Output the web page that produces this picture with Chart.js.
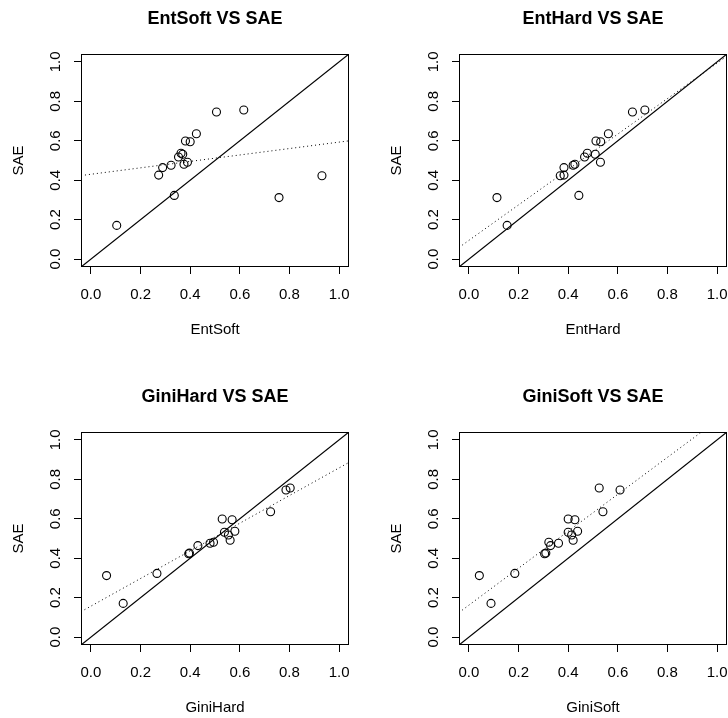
<!DOCTYPE html>
<html>
<head>
<meta charset="utf-8">
<script src="https://cdn.jsdelivr.net/npm/chart.js@4.4.0/dist/chart.umd.min.js"></script>
<style>
  html, body { margin: 0; padding: 0; background: #fff; }
  body { position: relative; width: 728px; height: 718px; overflow: hidden; }
  canvas { position: absolute; }
</style>
</head>
<body>
<canvas id="p1" width="364" height="360" style="left:0px;top:0px"></canvas>
<canvas id="p2" width="364" height="360" style="left:378px;top:0px"></canvas>
<canvas id="p3" width="364" height="360" style="left:0px;top:378px"></canvas>
<canvas id="p4" width="364" height="360" style="left:378px;top:378px"></canvas>
<script>
// SAE is shared by all four panels, each x array is in the same order
const SAE      = [0.171, 0.312, 0.323, 0.423, 0.426, 0.464, 0.476, 0.481, 0.491, 0.518, 0.532, 0.537, 0.595, 0.599, 0.636, 0.746, 0.756];
const entSoft  = [0.104, 0.758, 0.336, 0.931, 0.273, 0.289, 0.323, 0.375, 0.389, 0.353, 0.370, 0.363, 0.400, 0.381, 0.425, 0.506, 0.616];
const entHard  = [0.154, 0.113, 0.443, 0.368, 0.383, 0.383, 0.420, 0.427, 0.530, 0.466, 0.509, 0.477, 0.531, 0.512, 0.562, 0.659, 0.709];
const giniHard = [0.130, 0.063, 0.266, 0.394, 0.397, 0.431, 0.480, 0.494, 0.561, 0.554, 0.538, 0.580, 0.569, 0.529, 0.724, 0.786, 0.803];
const giniSoft = [0.089, 0.042, 0.185, 0.305, 0.310, 0.329, 0.361, 0.322, 0.420, 0.414, 0.400, 0.438, 0.427, 0.400, 0.540, 0.609, 0.525];

const TICKS = [0, 0.2, 0.4, 0.6, 0.8, 1.0];
const AXIS_MIN = -0.04;
const AXIS_MAX = 1.04;

const panels = [
    { id: 'p1', name: 'EntSoft',  x: entSoft },
    { id: 'p2', name: 'EntHard',  x: entHard },
    { id: 'p3', name: 'GiniHard', x: giniHard },
    { id: 'p4', name: 'GiniSoft', x: giniSoft }
];

Chart.defaults.font.family = "'Liberation Sans', Arial, Helvetica, sans-serif";
Chart.defaults.font.size = 15;
Chart.defaults.color = '#000';

function linearFit(xs, ys) {
    const n = xs.length;
    const mx = xs.reduce((a, b) => a + b, 0) / n;
    const my = ys.reduce((a, b) => a + b, 0) / n;
    let sxy = 0, sxx = 0;
    for (let i = 0; i < n; i++) {
        sxy += (xs[i] - mx) * (ys[i] - my);
        sxx += (xs[i] - mx) * (xs[i] - mx);
    }
    const slope = sxy / sxx;
    return { slope: slope, intercept: my - slope * mx };
}

// box round the plot area plus the bold title above it
const framePlugin = {
    id: 'frame',
    afterDraw(chart) {
        const ctx = chart.ctx;
        const a = chart.chartArea;
        ctx.save();
        ctx.strokeStyle = '#000';
        ctx.lineWidth = 1;
        ctx.strokeRect(Math.round(a.left) + 0.5, Math.round(a.top) + 0.5,
            Math.round(a.right - a.left) - 1, Math.round(a.bottom - a.top) - 1);
        ctx.font = "bold 18px 'Liberation Sans', Arial, sans-serif";
        ctx.fillStyle = '#000';
        ctx.textAlign = 'center';
        ctx.textBaseline = 'middle';
        ctx.fillText(chart.options.plugins.frame.title, (a.left + a.right) / 2, a.top - 35);
        ctx.restore();
    }
};

function makeAxis(position, label) {
    const bottom = position === 'bottom';
    return {
        type: 'linear',
        position: position,
        min: AXIS_MIN,
        max: AXIS_MAX,
        afterBuildTicks: scale => { scale.ticks = TICKS.map(v => ({ value: v })); },
        afterFit: scale => {
            if (bottom) scale.height = 93;
            else scale.width = 81;
        },
        grid: {
            display: true,
            drawOnChartArea: false,
            drawTicks: true,
            tickLength: 7,
            color: '#000',
            lineWidth: 1
        },
        border: { display: false },
        ticks: bottom
            ? { autoSkip: false, maxRotation: 0, padding: 12, callback: v => v.toFixed(1) }
            : { autoSkip: false, minRotation: 90, maxRotation: 90, crossAlign: 'center', padding: 8,
                callback: v => v.toFixed(1) },
        title: {
            display: true,
            text: label,
            font: { size: 15 },
            padding: bottom ? { top: 0, bottom: 21 } : { top: 10, bottom: 0 }
        }
    };
}

panels.forEach(p => {
    const points = p.x.map((v, i) => ({ x: v, y: SAE[i] }));
    const fit = linearFit(p.x, SAE);
    const fitLine = [AXIS_MIN, AXIS_MAX].map(v => ({ x: v, y: fit.intercept + fit.slope * v }));
    const diagonal = [AXIS_MIN, AXIS_MAX].map(v => ({ x: v, y: v }));

    new Chart(document.getElementById(p.id), {
        type: 'scatter',
        data: {
            datasets: [
                {
                    data: points,
                    pointStyle: 'circle',
                    pointRadius: 4,
                    borderColor: '#000',
                    backgroundColor: 'rgba(0,0,0,0)',
                    borderWidth: 1.1
                },
                {
                    data: diagonal,
                    showLine: true,
                    pointRadius: 0,
                    borderColor: '#000',
                    borderWidth: 1.2
                },
                {
                    data: fitLine,
                    showLine: true,
                    pointRadius: 0,
                    borderColor: '#000',
                    borderWidth: 1,
                    borderDash: [1, 3]
                }
            ]
        },
        options: {
            responsive: false,
            animation: false,
            devicePixelRatio: 1,
            layout: { padding: { left: 0, right: 15, top: 54, bottom: 0 } },
            scales: {
                x: makeAxis('bottom', p.name),
                y: makeAxis('left', 'SAE')
            },
            plugins: {
                legend: { display: false },
                tooltip: { enabled: false },
                frame: { title: p.name + ' VS SAE' }
            }
        },
        plugins: [framePlugin]
    });
});
</script>
</body>
</html>
